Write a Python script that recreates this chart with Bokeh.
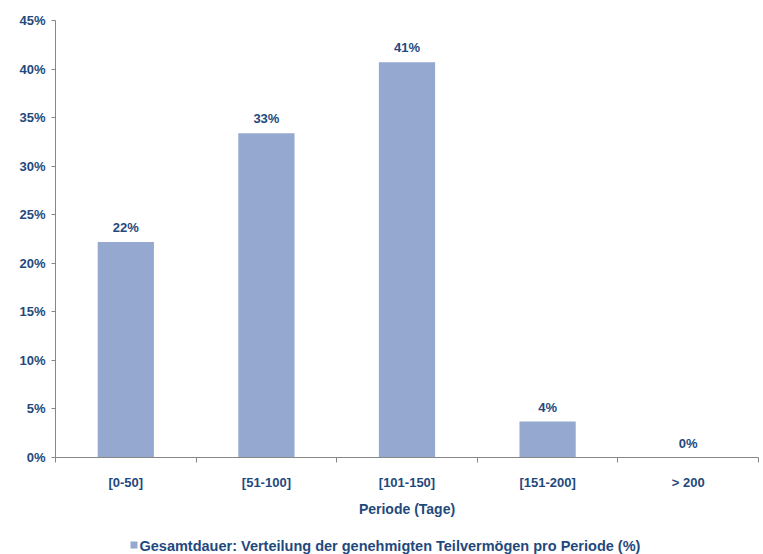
from bokeh.plotting import figure
from bokeh.layouts import column
from bokeh.models import (ColumnDataSource, FixedTicker, PrintfTickFormatter, Range1d, LabelSet)
from bokeh.core.properties import value
from bokeh.embed import file_html
from bokeh.resources import INLINE

categories = ["[0-50]", "[51-100]", "[101-150]", "[151-200]", "> 200"]
values = [22.2, 33.4, 40.7, 3.7, 0.0]
value_labels = ["22%", "33%", "41%", "4%", "0%"]
series_name = "Gesamtdauer: Verteilung der genehmigten Teilvermögen pro Periode (%)"
x_title = "Periode (Tage)"
y_ticks = [0, 5, 10, 15, 20, 25, 30, 35, 40, 45]

TEXT = "#1F497D"
BAR = "#95A9D0"
AXIS = "#878787"
FONT = "Liberation Sans"

xs = [i + 0.5 for i in range(len(categories))]
src = ColumnDataSource(dict(x=xs, top=values, lab=value_labels, cat=categories))

p = figure(width=763, height=530, output_backend="svg", toolbar_location=None,
           x_range=Range1d(0, len(categories)), y_range=Range1d(0, 45),
           min_border_left=55, min_border_right=5, min_border_top=20, min_border_bottom=73)
p.outline_line_color = None
p.grid.grid_line_color = None

r = p.vbar(x="x", top="top", width=0.4, source=src, fill_color=BAR, line_color=None)

labels = LabelSet(x="x", y="top", text="lab", source=src, text_align="center",
                  text_baseline="bottom", y_offset=7, text_font=value(FONT),
                  text_font_size="13px", text_font_style="bold", text_color=TEXT)
p.add_layout(labels)

ya = p.yaxis[0]
ya.ticker = FixedTicker(ticks=y_ticks)
ya.formatter = PrintfTickFormatter(format="%d%%")
ya.axis_line_color = AXIS
ya.major_tick_line_color = AXIS
ya.major_tick_out = 4
ya.major_tick_in = 0
ya.minor_tick_line_color = None
ya.major_label_text_font = FONT
ya.major_label_text_font_size = "13px"
ya.major_label_text_font_style = "bold"
ya.major_label_text_color = TEXT
ya.major_label_standoff = 6

xa = p.xaxis[0]
xa.ticker = FixedTicker(ticks=xs, minor_ticks=list(range(len(categories) + 1)))
xa.major_label_overrides = {x: c for x, c in zip(xs, categories)}
xa.axis_line_color = AXIS
xa.major_tick_line_color = None
xa.major_tick_out = 5
xa.major_tick_in = 0
xa.minor_tick_line_color = AXIS
xa.minor_tick_out = 5
xa.minor_tick_in = 0
xa.major_label_standoff = 12
xa.major_label_text_font = FONT
xa.major_label_text_font_size = "13px"
xa.major_label_text_font_style = "bold"
xa.major_label_text_color = TEXT
xa.axis_label = x_title
xa.axis_label_text_font = FONT
xa.axis_label_text_font_size = "14px"
xa.axis_label_text_font_style = "bold"
xa.axis_label_text_color = TEXT
xa.axis_label_standoff = 8

# legend strip; its frame is aligned with the main frame (canvas px 55..758)
leg = figure(width=763, height=24, output_backend="svg", toolbar_location=None,
             x_range=Range1d(55, 758), y_range=Range1d(0, 24),
             min_border_left=55, min_border_right=5, min_border_top=0, min_border_bottom=0,
             x_axis_type=None, y_axis_type=None)
leg.outline_line_color = None
leg.grid.grid_line_color = None
lsrc = ColumnDataSource(dict(x=[133.5], y=[9.5], name=[series_name]))
leg.rect(x="x", y="y", width=7, height=7, source=lsrc, fill_color=BAR, line_color=None)
leg.text(x=[139], y=[8.5], text=[series_name], text_font=value(FONT), text_font_size="14.5px",
         text_font_style="bold", text_color=TEXT, text_baseline="alphabetic", text_align="left")

layout = column(p, leg, spacing=0)
open("out.html", "w").write(file_html(layout, INLINE))
